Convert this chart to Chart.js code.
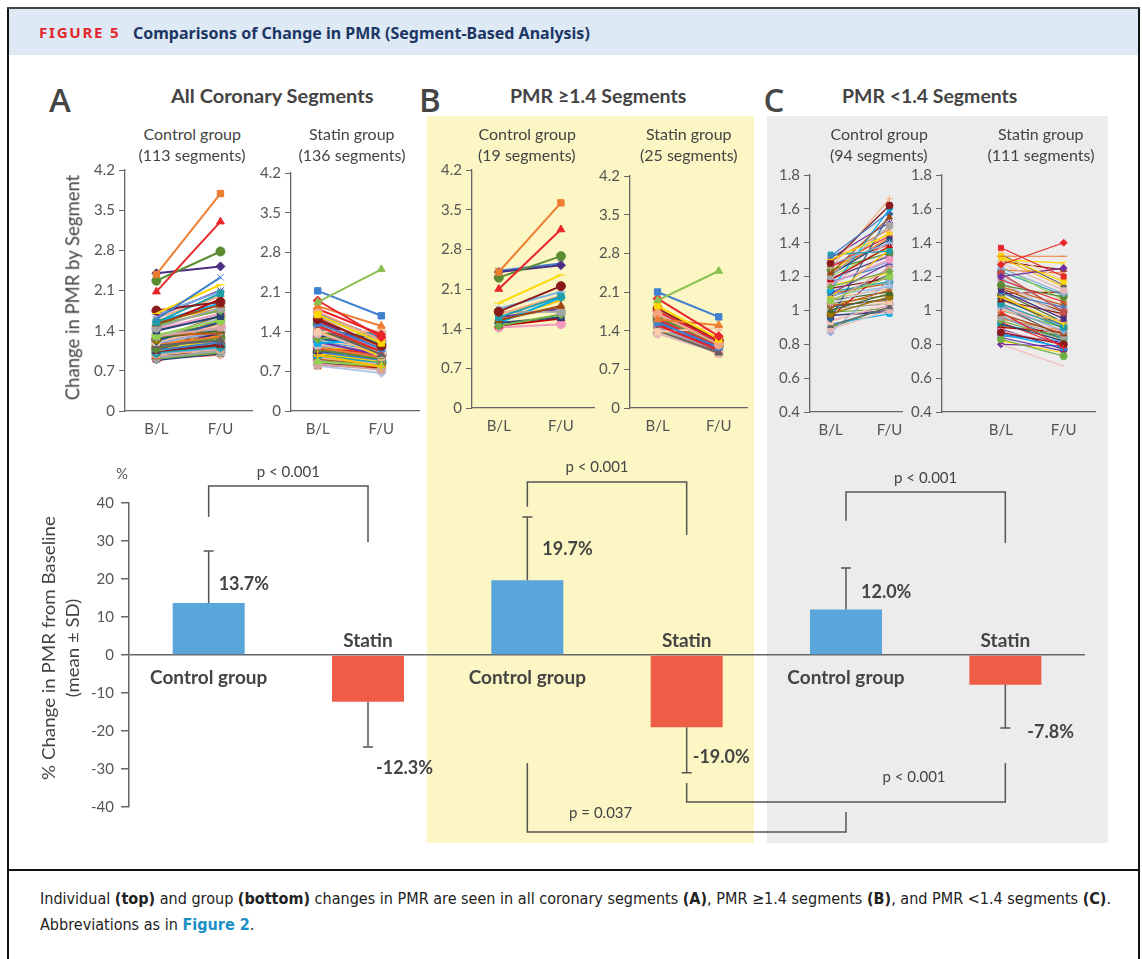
<!DOCTYPE html>
<html>
<head>
<meta charset="utf-8">
<script src="https://cdn.jsdelivr.net/npm/chart.js@4.4.1/dist/chart.umd.min.js"></script>
<style>
  body { margin: 0; background: #fff; font-family: Lato, "Noto Sans", sans-serif; color: #444; }
  #fig { position: relative; width: 1142px; height: 959px; overflow: hidden; background: #fff; }
  .box { position: absolute; }
  .t { position: absolute; white-space: nowrap; line-height: 1; }
  canvas { position: absolute; }
</style>
</head>
<body>
<div id="fig"></div>
<script>
// ---- datos: graficos individuales (B/L -> F/U por segmento) ----
const xLabels = ['B/L', 'F/U'];
const yTicksHigh = [0, 0.7, 1.4, 2.1, 2.8, 3.5, 4.2];
const yTicksLow = [0.4, 0.6, 0.8, 1, 1.2, 1.4, 1.6, 1.8];

// PMR >= 1.4
const bCtrlBL = [2.40, 2.10, 2.30, 2.40, 2.42, 1.85, 1.70, 1.60, 1.75, 1.65, 1.55, 1.70, 1.45, 1.50, 1.45, 1.42, 1.50, 1.60, 1.55];
const bCtrlFU = [3.62, 3.15, 2.68, 2.52, 2.55, 2.35, 2.15, 1.97, 2.05, 1.98, 1.80, 1.70, 1.65, 1.60, 1.58, 1.48, 1.95, 1.75, 1.90];
const bStatBL = [1.95, 2.10, 1.98, 1.85, 1.60, 1.70, 1.75, 1.80, 1.55, 1.50, 1.38, 1.40, 1.35, 1.45, 1.48, 1.60, 1.65, 1.55, 1.62, 1.42, 1.50, 1.58, 1.70, 1.45, 1.52];
const bStatFU = [2.48, 1.65, 1.30, 1.25, 1.50, 1.15, 1.20, 1.22, 1.10, 1.05, 1.45, 1.00, 1.00, 1.05, 0.98, 1.12, 1.15, 1.08, 1.20, 1.10, 1.04, 1.12, 1.25, 0.98, 1.02];

const aCtrlHiBL = [2.38, 2.08, 2.27, 2.40, 1.60, 1.70, 1.75, 1.55, 1.68, 1.62, 1.52, 1.45, 1.50, 1.40, 1.48, 1.42, 1.55, 1.65, 1.58];
const aCtrlHiFU = [3.79, 3.30, 2.78, 2.52, 2.33, 2.20, 1.90, 2.05, 2.08, 2.00, 1.85, 1.80, 1.75, 1.65, 1.95, 1.70, 1.88, 2.10, 1.78];
const aStatHiBL = [1.92, 2.12, 1.95, 1.70, 1.85, 1.75, 1.80, 1.62, 1.55, 1.50, 1.40, 1.45, 1.38, 1.48, 1.65, 1.58, 1.52, 1.60, 1.72, 1.42, 1.47, 1.55, 1.68, 1.44, 1.50];
const aStatHiFU = [2.50, 1.68, 1.30, 1.20, 1.50, 1.25, 1.35, 1.15, 1.10, 1.05, 1.42, 1.00, 1.02, 1.08, 1.12, 1.05, 1.00, 1.10, 1.28, 0.98, 1.03, 1.18, 1.22, 0.95, 1.07];

// PMR < 1.4
const cCtrlBL = [1.32, 1.30, 1.28, 1.33, 1.27, 1.25, 1.22, 1.20, 1.14, 1.21, 1.18, 1.16, 1.12, 1.10, 1.08, 1.06, 1.05, 1.04, 1.02, 1.00, 0.98, 0.95, 0.93, 0.91, 0.89, 0.87, 1.29, 1.26, 1.24, 1.19, 1.17, 1.15, 1.13, 1.11, 1.09, 1.07, 1.03, 1.01, 0.99, 0.97, 0.96, 0.94, 0.92, 1.31, 1.23, 1.20, 1.18, 1.12, 1.10, 1.06, 1.04, 1.02, 1.00, 1.08, 1.14, 1.16, 1.22, 1.26, 0.90, 0.97];
const cCtrlFU = [1.58, 1.45, 1.62, 1.35, 1.40, 1.66, 1.55, 1.50, 1.23, 1.42, 1.38, 1.30, 1.60, 1.28, 1.36, 1.20, 1.25, 1.15, 1.12, 1.10, 1.08, 1.57, 1.05, 1.02, 1.00, 1.18, 1.48, 1.44, 1.34, 1.32, 1.27, 1.22, 1.19, 1.17, 1.14, 1.13, 1.06, 1.04, 1.01, 0.99, 1.26, 1.03, 0.98, 1.52, 1.46, 1.37, 1.33, 1.24, 1.16, 1.11, 1.09, 1.07, 1.05, 1.21, 1.41, 1.29, 1.43, 1.39, 1.02, 1.00];
const cStatBL = [1.37, 1.27, 1.32, 1.32, 1.30, 1.20, 1.22, 0.99, 0.87, 0.83, 0.80, 0.80, 1.35, 1.33, 1.28, 1.25, 1.24, 1.18, 1.15, 1.12, 1.10, 1.08, 1.06, 1.04, 1.02, 1.00, 0.98, 0.96, 0.94, 0.92, 0.90, 0.88, 0.86, 0.84, 1.31, 1.26, 1.21, 1.17, 1.14, 1.11, 1.09, 1.07, 1.05, 1.03, 1.01, 0.97, 0.95, 0.93, 0.91, 0.89, 0.85, 0.82, 1.29, 1.23, 1.19, 1.16, 1.13, 1.06, 1.00, 0.96, 1.10, 1.04, 0.92, 0.86];
const cStatFU = [1.20, 1.40, 1.32, 1.17, 1.28, 1.25, 0.99, 0.78, 0.80, 0.73, 0.67, 0.79, 1.18, 1.15, 1.12, 1.10, 1.22, 1.05, 1.08, 0.95, 1.02, 0.92, 0.98, 0.90, 0.88, 0.94, 0.86, 0.85, 0.83, 0.82, 0.87, 0.80, 0.78, 0.76, 1.14, 1.06, 1.00, 0.97, 1.03, 0.93, 0.89, 0.91, 1.07, 0.84, 0.86, 0.81, 0.88, 0.79, 0.85, 0.77, 0.82, 0.75, 1.24, 1.09, 1.01, 0.96, 0.99, 0.93, 0.90, 0.83, 1.11, 0.87, 0.84, 0.81];

// ---- datos: grafico de barras (% cambio, media ± DE) ----
const groups = ['Control group', 'Statin', 'Control group', 'Statin', 'Control group', 'Statin'];
const meanChange = [13.7, -12.3, 19.7, -19.0, 12.0, -7.8];
const sdChange = [13.7, 11.9, 16.6, 12.0, 10.9, 11.4];
const barTicks = [-40, -30, -20, -10, 0, 10, 20, 30, 40];
const pTests = [
  { a: 0, b: 1, endA: 36.3, endB: 29.7, level: 44.5, text: 'p < 0.001' },
  { a: 2, b: 3, endA: 39.0, endB: 31.6, level: 45.5, text: 'p < 0.001' },
  { a: 4, b: 5, endA: 35.3, endB: 29.5, level: 42.9, text: 'p < 0.001' },
  { a: 2, b: 4, endA: -28.4, endB: -41.3, level: -46.6, text: 'p = 0.037' },
  { a: 3, b: 5, endA: -33.7, endB: -28.4, level: -38.7, text: 'p < 0.001' }
];

// ---- estilos ----
const palette = ['#ed7d31', '#e8262a', '#5b8c32', '#4b2d83', '#3f7fd0', '#ffd700', '#8b1a1a', '#1f9ea8', '#7fb2e5', '#f4b183',
  '#9e480e', '#a5a5a5', '#70ad47', '#264478', '#c00000', '#f49ac1', '#00b0f0', '#7030a0', '#ffc000', '#92d050',
  '#d9a3a3', '#b4c7e7', '#c55a11', '#43682b', '#997300', '#255e91', '#f8cbad', '#636363', '#e6b9b8', '#8faadc'];
const markers = ['rect', 'triangle', 'circle', 'rectRot', 'crossRot', 'line', 'circle', 'rect', 'star', 'cross', 'triangle', 'circle', 'rectRot'];
const statinLead = ['#8cc152', '#3f7fd0', '#e8262a', '#ffd700', '#ed7d31', '#f4a582', '#e8262a', '#8b1a1a', '#3f7fd0', '#e8262a'];
const statinLeadMarkers = ['triangle', 'rect', 'rectRot', 'rect', 'triangle', 'circle', 'rectRot', 'circle', 'rect', 'crossRot'];
const cStatLead = ['#e8262a', '#e8262a', '#ed7d31', '#ffd700', '#ffd700', '#7030a0', '#c0504d', '#e8262a', '#8b1a1a', '#70ad47', '#f2b8b8', '#7030a0'];
const cStatLeadMarkers = ['rect', 'rectRot', 'line', 'rect', 'crossRot', 'rectRot', 'circle', 'cross', 'circle', 'circle', false, 'rectRot'];
const barColors = ['#5aa5da', '#ef5d47'];
const labelLayout = [{ dx: 10, v: 18.7 }, { dx: 8, v: -29.7 }, { dx: 15, v: 27.9 }, { dx: 6, v: -26.8 }, { dx: 15, v: 16.6 }, { dx: 22, v: -20.3 }];
const pTextLayout = [{ dx: 0, dy: -14 }, { dx: -10, dy: -15 }, { dx: 0, dy: -14 }, { dx: -86, dy: -19 }, { dx: 68, dy: -25 }];

const fig = document.getElementById('fig');
Chart.defaults.font.family = 'Lato, "Noto Sans", sans-serif';

function box(x, y, w, h, css) {
  const d = document.createElement('div');
  d.className = 'box';
  Object.assign(d.style, { left: x + 'px', top: y + 'px', width: w + 'px', height: h + 'px' }, css || {});
  fig.appendChild(d);
  return d;
}

// texto centrado en (x,y); anchor 'l' => x es el borde izquierdo
function txt(html, x, y, css, opt) {
  opt = opt || {};
  const d = document.createElement('div');
  d.className = 't';
  d.innerHTML = html;
  Object.assign(d.style, css || {});
  fig.appendChild(d);
  const w = d.offsetWidth, h = d.offsetHeight;
  const s = opt.fit ? opt.fit / w : (opt.scale || 1);
  if (opt.rot) {
    d.style.left = (x - w / 2) + 'px';
    d.style.top = (y - h / 2) + 'px';
    d.style.transform = 'rotate(-90deg) scaleX(' + s + ')';
  } else {
    d.style.left = (opt.anchor === 'l' ? x : x - w * s / 2) + 'px';
    d.style.top = (y - h / 2) + 'px';
    d.style.transformOrigin = '0 50%';
    d.style.transform = 'scaleX(' + s + ')';
  }
  return s;
}

// ---- fondo y marco ----
box(427, 116, 327, 727, { background: '#fbf6c3' });
box(767, 116, 341, 727, { background: '#ebeceb' });
box(9, 9, 1129, 46, { background: '#dde9f5' });
box(7, 7, 2, 960, { background: '#111' });
box(1138, 7, 2, 960, { background: '#111' });
box(7, 7, 1133, 2, { background: '#444' });
box(7, 869, 1133, 2, { background: '#111' });

// ---- graficos individuales ----
function spaghetti(cfg) {
  const cv = document.createElement('canvas');
  const w = cfg.right - cfg.axisX + 45, h = cfg.bottom - cfg.top + 42;
  cv.width = w; cv.height = h;
  cv.style.left = (cfg.axisX - 45) + 'px';
  cv.style.top = (cfg.top - 12) + 'px';
  fig.appendChild(cv);
  const lead = cfg.lead || [], leadM = cfg.leadMarkers || [];
  const datasets = cfg.bl.map((b, i) => {
    const k = i + cfg.shift;
    const c = i < lead.length ? lead[i] : palette[k % palette.length];
    const m = i < leadM.length ? leadM[i] : markers[k % markers.length];
    return {
      data: [{ x: 0, y: b }, { x: 1, y: cfg.fu[i] }],
      showLine: true,
      clip: false,
      borderColor: c,
      backgroundColor: c,
      pointStyle: m,
      pointRadius: m === false ? 0 : cfg.r,
      pointBorderWidth: 1,
      borderWidth: cfg.lw
    };
  });
  new Chart(cv, {
    type: 'scatter',
    data: { datasets },
    options: {
      responsive: false,
      animation: false,
      layout: { padding: { top: 12, left: 0, right: 0, bottom: 0 } },
      plugins: { legend: { display: false }, tooltip: { enabled: false } },
      scales: {
        x: {
          type: 'linear', min: cfg.xmin, max: cfg.xmax,
          afterBuildTicks: s => { s.ticks = [{ value: 0 }, { value: 1 }]; },
          afterFit: s => { s.height = 30; },
          ticks: { callback: v => xLabels[v], color: '#555', font: { size: 15 }, padding: 9, maxRotation: 0, autoSkip: false },
          grid: { drawOnChartArea: false, drawTicks: false },
          border: { color: '#666', width: 1.3 }
        },
        y: {
          min: cfg.yTicks[0], max: cfg.yTicks[cfg.yTicks.length - 1],
          afterBuildTicks: s => { s.ticks = cfg.yTicks.map(v => ({ value: v })); },
          afterFit: s => { s.width = 45; },
          ticks: { callback: v => String(v), color: '#555', font: { size: 15 }, padding: 4 },
          grid: { drawOnChartArea: false, drawTicks: true, tickLength: 6, color: '#666' },
          border: { color: '#666', width: 1.3 }
        }
      }
    }
  });
}

spaghetti({ axisX: 125, top: 169, bottom: 411, right: 258, xmin: -0.49, xmax: 1.5, yTicks: yTicksHigh,
  bl: aCtrlHiBL.concat(cCtrlBL), fu: aCtrlHiFU.concat(cCtrlFU), shift: 0, r: 4.5, lw: 2 });
spaghetti({ axisX: 291, top: 172, bottom: 411, right: 425, xmin: -0.42, xmax: 1.6, yTicks: yTicksHigh,
  bl: aStatHiBL.concat(cStatBL), fu: aStatHiFU.concat(cStatFU), shift: 16, r: 4.5, lw: 2,
  lead: statinLead, leadMarkers: statinLeadMarkers });
spaghetti({ axisX: 472, top: 169, bottom: 408, right: 600, xmin: -0.43, xmax: 1.54, yTicks: yTicksHigh,
  bl: bCtrlBL, fu: bCtrlFU, shift: 0, r: 4.5, lw: 2 });
spaghetti({ axisX: 630, top: 175, bottom: 408, right: 753, xmin: -0.45, xmax: 1.47, yTicks: yTicksHigh,
  bl: bStatBL, fu: bStatFU, shift: 16, r: 4.5, lw: 2, lead: statinLead, leadMarkers: statinLeadMarkers });
spaghetti({ axisX: 810, top: 174, bottom: 412, right: 912, xmin: -0.35, xmax: 1.22, yTicks: yTicksLow,
  bl: cCtrlBL, fu: cCtrlFU, shift: 4, r: 3.5, lw: 1.2 });
spaghetti({ axisX: 942, top: 174, bottom: 412, right: 1100, xmin: -0.94, xmax: 1.5, yTicks: yTicksLow,
  bl: cStatBL, fu: cStatFU, shift: 14, r: 3.5, lw: 1.2, lead: cStatLead, leadMarkers: cStatLeadMarkers });

// ---- grafico de barras ----
const barAnnot = {
  id: 'barAnnot',
  afterDatasetsDraw(chart) {
    const { ctx, scales: { x, y } } = chart;
    const y0 = y.getPixelForValue(0);
    ctx.save();
    ctx.strokeStyle = '#555';
    ctx.lineWidth = 1.5;
    ctx.fillStyle = '#444';
    meanChange.forEach((m, i) => {
      const cx = x.getPixelForValue(i);
      const yb = y.getPixelForValue(m);
      const ye = y.getPixelForValue(m + Math.sign(m) * sdChange[i]);
      ctx.beginPath();
      ctx.moveTo(cx, yb); ctx.lineTo(cx, ye);
      ctx.moveTo(cx - 5, ye); ctx.lineTo(cx + 5, ye);
      ctx.stroke();
      ctx.textBaseline = 'middle';
      ctx.font = 'bold 18px Lato, "Noto Sans", sans-serif';
      ctx.textAlign = 'left';
      ctx.fillText(m.toFixed(1) + '%', cx + labelLayout[i].dx, y.getPixelForValue(labelLayout[i].v));
      ctx.font = 'bold 19px Lato, "Noto Sans", sans-serif';
      ctx.textAlign = 'center';
      ctx.fillText(groups[i], cx, m > 0 ? y0 + 23 : y0 - 14);
    });
    ctx.font = '15px Lato, "Noto Sans", sans-serif';
    pTests.forEach((p, i) => {
      const xa = x.getPixelForValue(p.a), xb = x.getPixelForValue(p.b);
      const yl = y.getPixelForValue(p.level);
      ctx.beginPath();
      ctx.moveTo(xa, y.getPixelForValue(p.endA));
      ctx.lineTo(xa, yl); ctx.lineTo(xb, yl);
      ctx.lineTo(xb, y.getPixelForValue(p.endB));
      ctx.stroke();
      ctx.textAlign = 'center'; ctx.textBaseline = 'middle';
      ctx.fillText(p.text, (xa + xb) / 2 + pTextLayout[i].dx, yl + pTextLayout[i].dy);
    });
    ctx.restore();
  }
};

const bcv = document.createElement('canvas');
bcv.width = 1142; bcv.height = 420;
bcv.style.left = '0px'; bcv.style.top = '440px';
fig.appendChild(bcv);
new Chart(bcv, {
  type: 'bar',
  data: {
    labels: groups,
    datasets: [{
      data: meanChange,
      backgroundColor: meanChange.map((v, i) => barColors[i % 2]),
      borderWidth: 0,
      barPercentage: 0.452,
      categoryPercentage: 1
    }]
  },
  options: {
    responsive: false,
    animation: false,
    layout: { padding: { top: 63, bottom: 53, left: 0, right: 57 } },
    plugins: { legend: { display: false }, tooltip: { enabled: false } },
    scales: {
      x: { display: false },
      y: {
        min: -40, max: 40,
        afterBuildTicks: s => { s.ticks = barTicks.map(v => ({ value: v })); },
        afterFit: s => { s.width = 129; },
        ticks: { callback: v => String(v), color: '#555', font: { size: 15 }, padding: 7 },
        grid: {
          color: c => (c.tick && c.tick.value === 0 ? '#666' : 'rgba(0,0,0,0)'),
          tickColor: '#666', tickLength: 8, lineWidth: 1.5, drawTicks: true
        },
        border: { color: '#666', width: 1.5 }
      }
    }
  },
  plugins: [barAnnot]
});

// ---- textos ----
txt('FIGURE 5', 39, 33, { color: '#e4262c', fontWeight: 'bold', fontSize: '14px', letterSpacing: '1.6px', fontFamily: '"Noto Sans", sans-serif' }, { anchor: 'l', fit: 81 });
txt('Comparisons of Change in PMR (Segment-Based Analysis)', 133, 33, { color: '#1c3664', fontWeight: 'bold', fontSize: '16px', fontFamily: '"Liberation Sans Narrow", "Noto Sans", sans-serif' }, { anchor: 'l', fit: 457 });

const letterCss = { color: '#454545', fontSize: '33px', fontWeight: '600', fontFamily: '"Open Sans", "Noto Sans", sans-serif' };
txt('A', 60, 99, letterCss);
txt('B', 430, 99, letterCss);
txt('C', 774, 99, letterCss);

const titleCss = { color: '#444', fontSize: '19px', fontWeight: 'bold' };
txt('All Coronary Segments', 272, 95, titleCss, { fit: 203 });
txt('PMR ≥1.4 Segments', 598, 95, titleCss, { fit: 176 });
txt('PMR &lt;1.4 Segments', 929, 95, titleCss, { fit: 175 });

const subCss = { color: '#444', fontSize: '16px' };
[[192, 'Control group', '(113 segments)'], [352, 'Statin group', '(136 segments)'],
 [527, 'Control group', '(19 segments)'], [689, 'Statin group', '(25 segments)'],
 [879, 'Control group', '(94 segments)'], [1041, 'Statin group', '(111 segments)']].forEach(s => {
  txt(s[1], s[0], 134, subCss);
  txt(s[2], s[0], 155, subCss);
});

txt('Change in PMR by Segment', 72, 287, { color: '#444', fontSize: '19px' }, { rot: true, fit: 226 });
txt('% Change in PMR from Baseline', 48, 648, { color: '#444', fontSize: '18px' }, { rot: true, fit: 264 });
txt('(mean ± SD)', 72, 648, { color: '#444', fontSize: '18px' }, { rot: true, fit: 99 });
txt('%', 122, 473, { color: '#555', fontSize: '15px' });

const capCss = { color: '#222', fontSize: '16px', fontFamily: '"Liberation Sans Narrow", "DejaVu Sans Condensed", sans-serif' };
const sc = txt('Individual <b>(top)</b> and group <b>(bottom)</b> changes in PMR are seen in all coronary segments <b>(A)</b>, PMR ≥1.4 segments <b>(B)</b>, and PMR &lt;1.4 segments <b>(C)</b>.',
  40, 899, capCss, { anchor: 'l', fit: 1071 });
txt('Abbreviations as in <b style="color:#1a8fc8">Figure 2</b>.', 40, 925, capCss, { anchor: 'l', scale: sc });
</script>
</body>
</html>
